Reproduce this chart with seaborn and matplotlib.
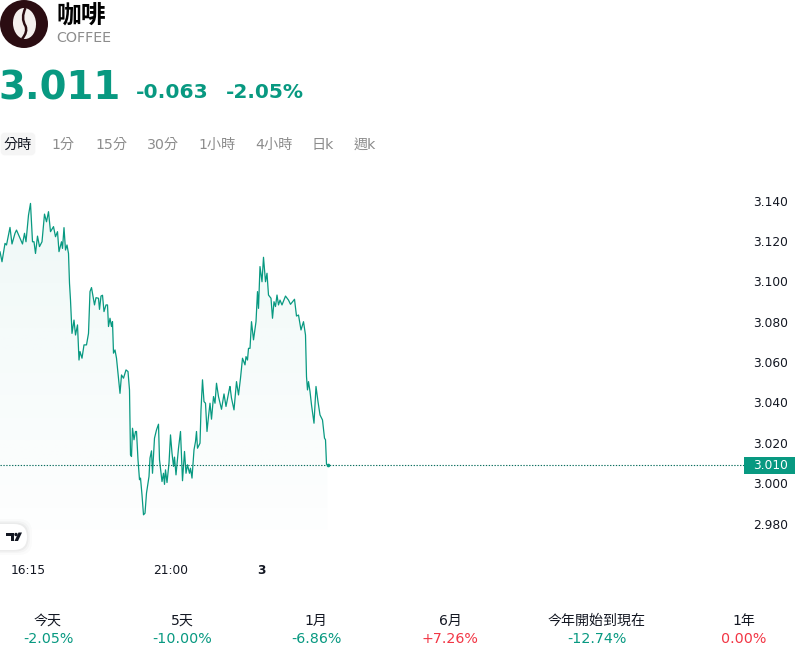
import numpy as np
import pandas as pd
import matplotlib
matplotlib.use('Agg')
import matplotlib.pyplot as plt
import seaborn as sns
from matplotlib.colors import LinearSegmentedColormap
from matplotlib.patches import Circle, Ellipse, FancyBboxPatch, PathPatch, Polygon, Rectangle
from matplotlib.path import Path
from matplotlib.transforms import ScaledTranslation

# minutes since the first bar (15:18)
minutes = [0, 4, 10, 13, 20, 24, 30, 33, 40, 45, 49, 52, 57, 61, 65, 68, 71, 75, 79, 84,
           89, 93, 97, 101, 107, 111, 115, 118, 123, 125, 128, 131, 134, 137, 139, 141, 144, 148, 151, 155,
           158, 160, 164, 168, 173, 177, 180, 183, 189, 192, 197, 199, 202, 205, 208, 212, 215, 217, 220, 223,
           225, 227, 230, 233,
           240, 243, 247, 252, 256, 259, 261, 263, 265, 268, 271, 273, 276, 279, 281, 284, 287, 290, 293, 298,
           300, 303, 305, 309, 313, 317, 319, 324, 327, 329, 331, 334, 338, 341, 344, 347, 349, 352, 357, 361,
           365, 369, 372, 375, 379, 381, 384, 388, 391, 393, 395, 400, 402, 405, 408, 411, 414, 417, 420, 423,
           427, 430, 433, 437, 443, 448, 452, 459,
           460, 463, 468, 473, 477, 481, 485, 490, 492, 495, 497, 500, 503, 507, 512, 515, 517, 520, 524, 527,
           531, 534, 537, 542, 545, 548, 551, 554, 557, 560, 564, 571, 577, 581, 589, 593, 597, 602, 607, 611,
           613, 615, 617, 620, 623, 628, 632, 636, 640, 645, 649, 651, 653, 655]
prices = [3.1152, 3.1102, 3.1193, 3.1185, 3.1272, 3.1190, 3.1243, 3.1259, 3.1218, 3.1190, 3.1243, 3.1201, 3.1333, 3.1391, 3.1201, 3.1201, 3.1143, 3.1229, 3.1177, 3.1201,
          3.1338, 3.1300, 3.1350, 3.1251, 3.1276, 3.1226, 3.1251, 3.1152, 3.1201, 3.1168, 3.1271, 3.1160, 3.1185, 3.1143, 3.0995, 3.0912, 3.0747, 3.0813, 3.0739, 3.0789,
          3.0615, 3.0657, 3.0624, 3.0690, 3.0690, 3.0747, 3.0954, 3.0974, 3.0888, 3.0924, 3.0921, 3.0866, 3.0932, 3.0936, 3.0855, 3.0888, 3.0888, 3.0781, 3.0822, 3.0781,
          3.0805, 3.0649, 3.0665, 3.0624,
          3.0450, 3.0541, 3.0525, 3.0566, 3.0558, 3.0467, 3.0145, 3.0137, 3.0277, 3.0220, 3.0261, 3.0261, 3.0121, 3.0022, 3.0030, 2.9947, 2.9848, 2.9856, 2.9956, 3.0038,
          3.0129, 3.0165, 3.0054, 3.0228, 3.0269, 3.0297, 3.0121, 3.0013, 3.0054, 2.9999, 3.0071, 3.0008, 3.0104, 3.0244, 3.0154, 3.0088, 3.0134, 3.0046, 3.0178, 3.0261,
          3.0017, 3.0162, 3.0054, 3.0096, 3.0054, 3.0079, 3.0030, 3.0170, 3.0211, 3.0261, 3.0178, 3.0203, 3.0368, 3.0517, 3.0409, 3.0401, 3.0261, 3.0335, 3.0401, 3.0322,
          3.0434, 3.0401, 3.0500, 3.0434, 3.0371, 3.0447, 3.0385, 3.0475,
          3.0484, 3.0426, 3.0368, 3.0508, 3.0442, 3.0525, 3.0624, 3.0591, 3.0632, 3.0615, 3.0673, 3.0673, 3.0805, 3.0715, 3.0805, 3.0954, 3.0871, 3.1078, 3.1003, 3.1124,
          3.1003, 3.1045, 3.0937, 3.0921, 3.0822, 3.0904, 3.0880, 3.0937, 3.0888, 3.0912, 3.0888, 3.0932, 3.0912, 3.0891, 3.0916, 3.0833, 3.0838, 3.0764, 3.0805, 3.0739,
          3.0533, 3.0467, 3.0508, 3.0459, 3.0393, 3.0302, 3.0484, 3.0409, 3.0343, 3.0318, 3.0228, 3.0220, 3.0099, 3.0095]

y_ticks = [2.98, 3.00, 3.02, 3.04, 3.06, 3.08, 3.10, 3.12, 3.14]
x_ticks = [57, 342, 522]
x_labels = ['16:15', '21:00', '3']
last_price = 3.0095
last_label = '3.010'

tabs = ['分時', '1分', '15分', '30分', '1小時', '4小時', '日k', '週k']
tab_x = [18, 63, 111, 163, 217, 274, 323, 365]
periods = ['今天', '5天', '1月', '6月', '今年開始到現在', '1年']
changes = ['-2.05%', '-10.00%', '-6.86%', '+7.26%', '-12.74%', '0.00%']
period_x = [48, 182, 316, 450, 597, 744]

GREEN = '#089981'
RED = '#f23645'
GRAY = '#8c8c8c'

sns.set_theme(style='white')
plt.rcParams['font.family'] = ['DejaVu Sans', 'Noto Sans CJK TC']

W, H = 800, 658
fig = plt.figure(figsize=(W / 100, H / 100), dpi=100)
ax = fig.add_axes([0, 1 - 555 / H, 745 / W, (555 - 180) / H])

df = pd.DataFrame({'minute': minutes, 'price': prices})
sns.lineplot(data=df, x='minute', y='price', estimator=None, color=GREEN, lw=0.9, ax=ax)
sns.scatterplot(x=minutes[-1:], y=prices[-1:], color=GREEN, s=7, lw=0, ax=ax, zorder=4)

# gradient under the line, clipped to the filled area
floor = 2.9775
area = ax.fill_between(df['minute'], df['price'], floor, color='none', lw=0)
cmap = LinearSegmentedColormap.from_list('fade', [(8 / 255, 153 / 255, 129 / 255, 0.008),
                                                  (8 / 255, 153 / 255, 129 / 255, 0.065)])
grad = ax.imshow(np.linspace(1, 0, 256).reshape(-1, 1), cmap=cmap, vmin=0, vmax=1, aspect='auto',
                 extent=[0, 660, floor, 3.14], zorder=1)
grad.set_clip_path(area.get_paths()[0], transform=ax.transData)

ax.axhline(last_price, color='#0b6e5e', lw=0.8, dashes=(1.2, 1.4))

ax.set_xlim(0, 1490)
ax.set_ylim(2.9649, 3.1507)
ax.set_xlabel('')
ax.set_ylabel('')
ax.yaxis.tick_right()
ax.set_yticks(y_ticks)
ax.set_yticklabels([f'{v:.3f}' for v in y_ticks], fontsize=8.8, color='#131722')
ax.set_xticks(x_ticks)
ax.set_xticklabels(x_labels, fontsize=8.8, color='#131722')
ax.get_xticklabels()[2].set_fontweight('bold')
ax.tick_params(axis='both', length=0)
ax.tick_params(axis='y', pad=6)
ax.tick_params(axis='x', pad=6.2)
nudge = ScaledTranslation(0, 1 / 100, fig.dpi_scale_trans)
for tick_label in ax.get_yticklabels():
    tick_label.set_transform(tick_label.get_transform() + nudge)
sns.despine(ax=ax, left=True, bottom=True, right=True, top=True)

# header, tabs and footer are placed in page pixels
page = fig.add_axes([0, 0, 1, 1])
page.set_xlim(0, W)
page.set_ylim(H, 0)
page.axis('off')
page.patch.set_alpha(0)

page.add_patch(Circle((24, 24), 24, color='#2b0d12', lw=0))
page.add_patch(Ellipse((24.5, 23.5), 23, 31, angle=-4, color='#f4f0ee', lw=0))
page.add_patch(PathPatch(Path([(25.5, 8), (20.5, 18), (25.5, 26), (28, 32), (22, 39)],
                              [Path.MOVETO, Path.CURVE3, Path.CURVE3, Path.CURVE3, Path.CURVE3]),
                         fill=False, ec='#2b0d12', lw=1.8))

page.text(56.5, 16, '咖啡', fontsize=17.8, fontweight='bold', color='black', va='center')
page.text(56, 38.5, 'COFFEE', fontsize=10.3, color=GRAY, va='center')
page.text(-1.5, 88, '3.011', fontsize=27.8, fontweight='bold', color=GREEN, va='center')
page.text(136, 93, '-0.063', fontsize=14.6, fontweight='bold', color=GREEN, va='center')
page.text(226, 93, '-2.05%', fontsize=14.5, fontweight='bold', color=GREEN, va='center')

page.add_patch(FancyBboxPatch((2, 134), 32, 20, boxstyle='round,pad=0,rounding_size=3',
                              fc='#f5f5f5', ec='#f5f5f5', lw=2))
for i, (tab, x) in enumerate(zip(tabs, tab_x)):
    page.text(x, 145, tab, fontsize=10.2, color='#131722' if i == 0 else GRAY, ha='center', va='center')

# price tag on the axis
page.add_patch(Rectangle((744, 457), 51, 16.5, color=GREEN, lw=0))
page.text(771, 465.3, last_label, fontsize=8.8, color='white', ha='center', va='center')

# chart logo badge
for grow, alpha in [(5, 0.015), (3, 0.025), (1.5, 0.035)]:
    page.add_patch(FancyBboxPatch((-20 - grow, 524 - grow), 47 + 2 * grow, 26 + 2 * grow,
                                  boxstyle='round,pad=0,rounding_size=13', fc='black', ec='none', alpha=alpha))
page.add_patch(FancyBboxPatch((-20, 524), 47, 26, boxstyle='round,pad=0,rounding_size=13', fc='white', ec='none'))
page.add_patch(Polygon([(6, 532.5), (14, 532.5), (14, 541), (10.5, 541), (10.5, 536), (6, 536)], color='#131722', lw=0))
page.add_patch(Circle((16, 534.5), 1.7, color='#131722', lw=0))
page.add_patch(Polygon([(14.5, 541), (18, 541), (22, 532.5), (18.5, 532.5)], color='#131722', lw=0))

for label, change, x in zip(periods, changes, period_x):
    page.text(x, 621, label, fontsize=10.1, color='#131722', ha='center', va='center')
    colour = GREEN if change.startswith('-') else RED
    page.text(x, 639, change, fontsize=10.25, color=colour, ha='center', va='center')

fig.savefig('out.png', dpi=100)
